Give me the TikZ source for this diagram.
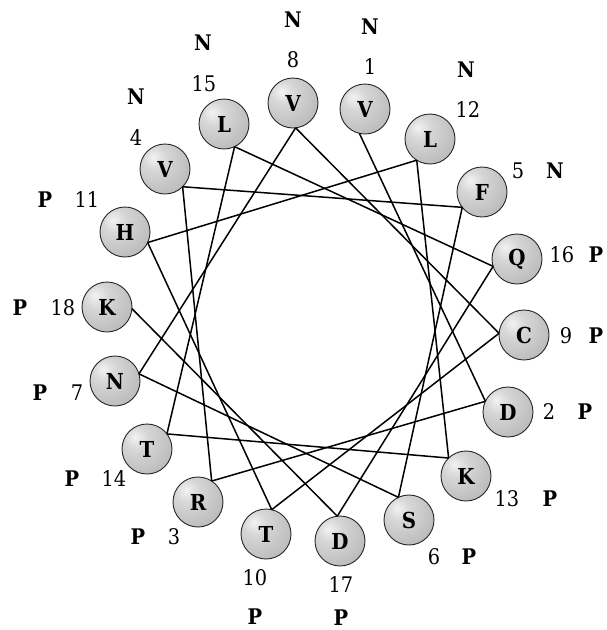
\documentclass[tikz,border=0pt]{standalone}
\usepackage{fontspec}
\setmainfont{DejaVu Serif Condensed}
\usetikzlibrary{calc}
\pgfdeclareradialshading{resball}{\pgfpoint{-12bp}{12bp}}{%
  color(0bp)=(gray!10); color(12bp)=(gray!32); color(34bp)=(gray!52);
  color(60bp)=(gray!68); color(100bp)=(gray!68)}
\tikzset{
  res/.style={circle, minimum size=50pt, inner sep=0pt, draw=black!85, line width=0.9pt,
    shading=resball, font=\fontsize{22}{26}\selectfont\bfseries},
  num/.style={inner sep=0pt, font=\fontsize{21.5}{26}\selectfont},
  cls/.style={inner sep=0pt, font=\fontsize{21.5}{26}\selectfont\bfseries},
  conn/.style={line width=1.5pt, black}
}
\begin{document}
\begin{tikzpicture}[x=1pt,y=-1pt]
\useasboundingbox (0,0) rectangle (606,630);
\coordinate (ctr) at (316,321);
% residues
\node[res] (r1)  at (365,109) {V};
\node[res] (r2)  at (508,412) {D};
\node[res] (r3)  at (198,502) {R};
\node[res] (r4)  at (165,169) {V};
\node[res] (r5)  at (482,192) {F};
\node[res] (r6)  at (409,520) {S};
\node[res] (r7)  at (115,381) {N};
\node[res] (r8)  at (293,103) {V};
\node[res] (r9)  at (524,335) {C};
\node[res] (r10) at (266,534) {T};
\node[res] (r11) at (125,232) {H};
\node[res] (r12) at (430,139) {L};
\node[res] (r13) at (466,476) {K};
\node[res] (r14) at (147,449) {T};
\node[res] (r15) at (224,124) {L};
\node[res] (r16) at (517,259) {Q};
\node[res] (r17) at (340,541) {D};
\node[res] (r18) at (107,307) {K};
% inward attachment points
\foreach \i in {1,...,18}{
  \coordinate (p\i) at ($(r\i)!25pt!(ctr)$);
}
% connectors
\foreach \i [evaluate=\i as \j using int(\i+1)] in {1,...,17}{
  \draw[conn] (p\i) -- (p\j);
}
% numbers
\node[num] (n1)  at (370,67)  {1};
\node[num] (n2)  at (549,412) {2};
\node[num] (n3)  at (174,537) {3};
\node[num] (n4)  at (136,138) {4};
\node[num] (n5)  at (518,171) {5};
\node[num] (n6)  at (434,557) {6};
\node[num] (n7)  at (77,393)  {7};
\node[num] (n8)  at (293,60)  {8};
\node[num] (n9)  at (566,336) {9};
\node[num] (n10) at (255,578) {10};
\node[num] (n11) at (87,200)  {11};
\node[num] (n12) at (468,110) {12};
\node[num] (n13) at (507,499) {13};
\node[num] (n14) at (114,479) {14};
\node[num] (n15) at (204,84)  {15};
\node[num] (n16) at (562,255) {16};
\node[num] (n17) at (341,585) {17};
\node[num] (n18) at (63,308)  {18};
% classes
\node[cls] (c1)  at (370,27)  {N};
\node[cls] (c2)  at (585,412) {P};
\node[cls] (c3)  at (138,537) {P};
\node[cls] (c4)  at (136,97)  {N};
\node[cls] (c5)  at (555,171) {N};
\node[cls] (c6)  at (469,557) {P};
\node[cls] (c7)  at (40,393)  {P};
\node[cls] (c8)  at (293,20)  {N};
\node[cls] (c9)  at (596,336) {P};
\node[cls] (c10) at (255,617) {P};
\node[cls] (c11) at (45,200)  {P};
\node[cls] (c12) at (466,70)  {N};
\node[cls] (c13) at (550,499) {P};
\node[cls] (c14) at (72,479)  {P};
\node[cls] (c15) at (203,43)  {N};
\node[cls] (c16) at (596,255) {P};
\node[cls] (c17) at (341,618) {P};
\node[cls] (c18) at (20,308)  {P};
\end{tikzpicture}
\end{document}
